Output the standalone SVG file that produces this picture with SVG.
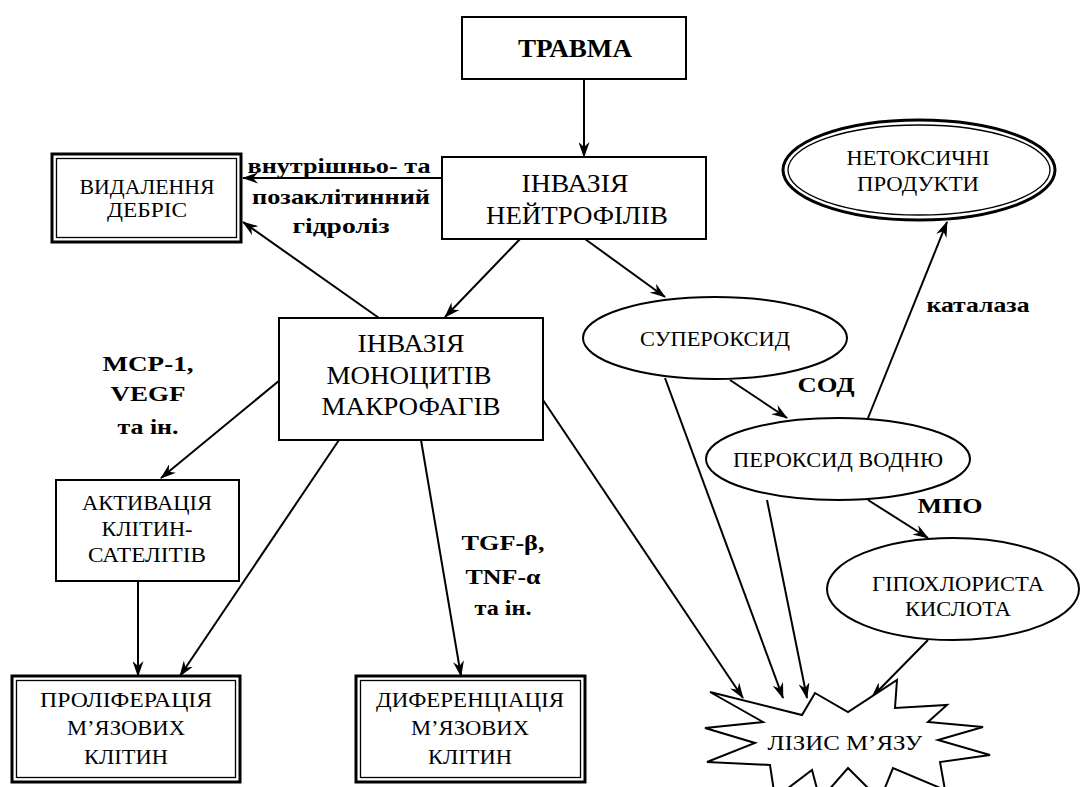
<svg xmlns="http://www.w3.org/2000/svg" width="1080" height="787" viewBox="0 0 1080 787" font-family="'Liberation Serif','DejaVu Serif','Times New Roman',Times,serif">
<defs>
<style>
.box{fill:#fff;stroke:#000;stroke-width:2}
.thick{fill:none;stroke:#000;stroke-width:3}
.thin{fill:none;stroke:#000;stroke-width:1.3}
text{font-family:'Liberation Serif','DejaVu Serif','Times New Roman',Times,serif;fill:#000;text-anchor:middle}
.big{font-size:25px}
.mid{font-size:20px}
.lbl{font-size:21px;font-weight:bold}
.con{fill:none;stroke:#000;stroke-width:2;marker-end:url(#ah)}
</style>
<marker id="ah" viewBox="0 0 16 11" refX="15" refY="5.5" markerWidth="16" markerHeight="11" markerUnits="userSpaceOnUse" orient="auto">
<path d="M0,0 L16,5.5 L0,11 L5,5.5 z" fill="#000"/>
</marker>
</defs>
<rect width="1080" height="787" fill="#fff"/>

<g id="connectors">
<line class="con" x1="584" y1="79" x2="584" y2="157"/>
<line class="con" x1="442" y1="178" x2="243" y2="178"/>
<line class="con" x1="379" y1="318" x2="243" y2="222"/>
<line class="con" x1="520" y1="239" x2="445" y2="317"/>
<line class="con" x1="585" y1="239" x2="665" y2="297"/>
<line class="con" x1="730" y1="380" x2="787" y2="418"/>
<line class="con" x1="868" y1="500" x2="928" y2="538"/>
<line class="con" x1="868" y1="418" x2="947" y2="222"/>
<line class="con" x1="543" y1="400" x2="743" y2="698"/>
<line class="con" x1="665" y1="378" x2="783" y2="698"/>
<line class="con" x1="767" y1="500" x2="807" y2="698"/>
<line class="con" x1="928" y1="640" x2="872" y2="697"/>
<line class="con" x1="280" y1="380" x2="161" y2="478"/>
<line class="con" x1="138" y1="581" x2="138" y2="676"/>
<line class="con" x1="339" y1="440" x2="180" y2="676"/>
<line class="con" x1="421" y1="440" x2="461" y2="676"/>
</g>

<g id="labels">
<text class="lbl" x="339" y="173" textLength="183" lengthAdjust="spacingAndGlyphs">внутрішньо- та</text>
<text class="lbl" x="341" y="204" textLength="178" lengthAdjust="spacingAndGlyphs">позаклітинний</text>
<text class="lbl" x="341" y="233" textLength="97" lengthAdjust="spacingAndGlyphs">гідроліз</text>
<text class="lbl" x="148" y="371" textLength="91" lengthAdjust="spacingAndGlyphs">МСР-1,</text>
<text class="lbl" x="148" y="401" textLength="75" lengthAdjust="spacingAndGlyphs">VEGF</text>
<text class="lbl" x="148" y="434" textLength="61" lengthAdjust="spacingAndGlyphs">та ін.</text>
<text class="lbl" x="503" y="550" textLength="83" lengthAdjust="spacingAndGlyphs">TGF-β,</text>
<text class="lbl" x="503" y="584" textLength="75" lengthAdjust="spacingAndGlyphs">TNF-α</text>
<text class="lbl" x="503" y="615" textLength="57" lengthAdjust="spacingAndGlyphs">та ін.</text>
<text class="lbl" x="826" y="392" textLength="57" lengthAdjust="spacingAndGlyphs">СОД</text>
<text class="lbl" x="950" y="513" textLength="65" lengthAdjust="spacingAndGlyphs">МПО</text>
<text class="lbl" x="978" y="312" textLength="103" lengthAdjust="spacingAndGlyphs">каталаза</text>
</g>

<g id="travma">
<rect class="box" x="462" y="17" width="224" height="62"/>
<text font-size="26" font-weight="bold" x="575" y="57" textLength="114" lengthAdjust="spacingAndGlyphs">ТРАВМА</text>
</g>

<g id="neutrophils">
<rect class="box" x="442" y="157" width="264" height="82"/>
<text class="big" x="575" y="192" textLength="107" lengthAdjust="spacingAndGlyphs">ІНВАЗІЯ</text>
<text class="big" x="577" y="224" textLength="182" lengthAdjust="spacingAndGlyphs">НЕЙТРОФІЛІВ</text>
</g>

<g id="debris">
<rect class="thick" x="52" y="154" width="189" height="88"/>
<rect class="thin" x="56.5" y="158.5" width="180" height="79"/>
<text class="mid" x="147" y="194" textLength="135" lengthAdjust="spacingAndGlyphs">ВИДАЛЕННЯ</text>
<text class="mid" x="147" y="217" textLength="80" lengthAdjust="spacingAndGlyphs">ДЕБРІС</text>
</g>

<g id="macrophages">
<rect class="box" x="279" y="318" width="264" height="122"/>
<text class="big" x="411" y="352" textLength="107" lengthAdjust="spacingAndGlyphs">ІНВАЗІЯ</text>
<text class="big" x="409" y="384" textLength="165" lengthAdjust="spacingAndGlyphs">МОНОЦИТІВ</text>
<text class="big" x="411" y="415" textLength="179" lengthAdjust="spacingAndGlyphs">МАКРОФАГІВ</text>
</g>

<g id="satellite">
<rect class="box" x="56" y="480" width="183" height="101"/>
<text class="mid" x="147" y="510" textLength="130" lengthAdjust="spacingAndGlyphs">АКТИВАЦІЯ</text>
<text class="mid" x="147" y="536" textLength="91" lengthAdjust="spacingAndGlyphs">КЛІТИН-</text>
<text class="mid" x="147" y="562" textLength="118" lengthAdjust="spacingAndGlyphs">САТЕЛІТІВ</text>
</g>

<g id="proliferation">
<rect class="thick" x="12" y="676" width="228" height="106"/>
<rect class="thin" x="16.5" y="680.5" width="219" height="97"/>
<text class="mid" x="126" y="707" textLength="172" lengthAdjust="spacingAndGlyphs">ПРОЛІФЕРАЦІЯ</text>
<text class="mid" x="126" y="735" textLength="118" lengthAdjust="spacingAndGlyphs">М’ЯЗОВИХ</text>
<text class="mid" x="126" y="764" textLength="84" lengthAdjust="spacingAndGlyphs">КЛІТИН</text>
</g>

<g id="differentiation">
<rect class="thick" x="356" y="676" width="229" height="106"/>
<rect class="thin" x="360.5" y="680.5" width="220" height="97"/>
<text class="mid" x="470" y="707" textLength="188" lengthAdjust="spacingAndGlyphs">ДИФЕРЕНЦІАЦІЯ</text>
<text class="mid" x="470" y="735" textLength="118" lengthAdjust="spacingAndGlyphs">М’ЯЗОВИХ</text>
<text class="mid" x="470" y="764" textLength="84" lengthAdjust="spacingAndGlyphs">КЛІТИН</text>
</g>

<g id="nontoxic">
<ellipse class="thick" cx="919" cy="170" rx="136" ry="50"/>
<ellipse class="thin" cx="919" cy="170" rx="131" ry="45"/>
<text class="mid" x="918" y="165" textLength="143" lengthAdjust="spacingAndGlyphs">НЕТОКСИЧНІ</text>
<text class="mid" x="918" y="191" textLength="122" lengthAdjust="spacingAndGlyphs">ПРОДУКТИ</text>
</g>

<g id="superoxide">
<ellipse class="box" cx="715" cy="338" rx="132" ry="41"/>
<text class="mid" x="715" y="346" textLength="150" lengthAdjust="spacingAndGlyphs">СУПЕРОКСИД</text>
</g>

<g id="peroxide">
<ellipse class="box" cx="838" cy="459" rx="132" ry="41"/>
<text class="mid" x="838" y="467" textLength="210" lengthAdjust="spacingAndGlyphs">ПЕРОКСИД ВОДНЮ</text>
</g>

<g id="hypochlorous">
<ellipse class="box" cx="953" cy="589" rx="126" ry="51"/>
<text class="mid" x="958" y="591" textLength="172" lengthAdjust="spacingAndGlyphs">ГІПОХЛОРИСТА</text>
<text class="mid" x="958" y="616" textLength="106" lengthAdjust="spacingAndGlyphs">КИСЛОТА</text>
</g>

<g id="lysis">
<polygon class="box" points="710,692 802,715 815,693 848,712 897,680 895,708 947,705 928,722 983,727 938,740 990,755 940,762 945,790 893,768 880,800 848,768 820,800 812,770 775,798 770,765 707,762 755,743 705,728 763,722"/>
<text class="mid" x="845" y="750" textLength="155" lengthAdjust="spacingAndGlyphs">ЛІЗИС М’ЯЗУ</text>
</g>
</svg>
